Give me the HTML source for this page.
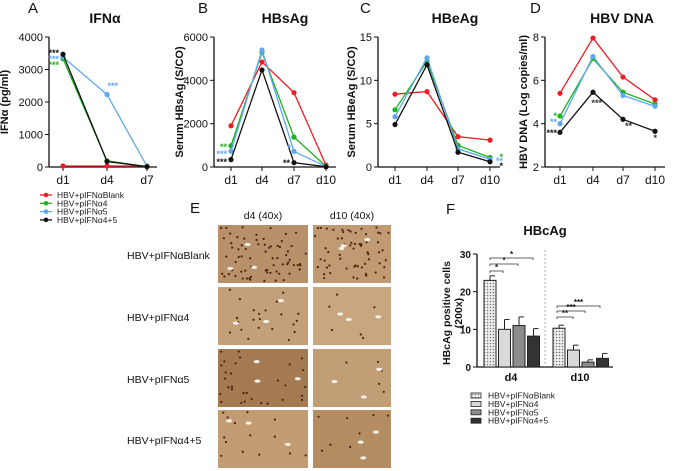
<!DOCTYPE html>
<html><head><meta charset="utf-8"><style>
body{margin:0;background:#fff;width:675px;height:471px;overflow:hidden;font-family:"Liberation Sans",sans-serif}
svg{position:absolute;left:0;top:0}
</style></head><body>
<svg id="fig" width="675" height="471"></svg>
<script>
const days3=["d1","d4","d7"];
const days4=["d1","d4","d7","d10"];
const groups=["HBV+pIFNαBlank","HBV+pIFNα4","HBV+pIFNα5","HBV+pIFNα4+5"];
const colors=["#ee1c24","#1db31d","#5fa8f0","#111111"];
// Panel A IFNα
const aBlank=[30,30,30],aA4=[3330,190,10],aA5=[3380,2230,20],aA45=[3470,170,10];
// Panel B HBsAg
const bBlank=[1900,4850,3430,80],bA4=[980,5300,1380,30],bA5=[730,5400,720,20],bA45=[340,4480,200,10];
// Panel C HBeAg
const cBlank=[8.4,8.7,3.5,3.1],cA4=[6.6,12.2,2.5,1.1],cA5=[5.8,12.6,2.1,0.9],cA45=[4.9,11.8,1.7,0.6];
// Panel D HBV DNA
const dBlank=[5.4,7.95,6.15,5.1],dA4=[4.35,7.0,5.45,4.9],dA5=[4.0,7.1,5.3,4.8],dA45=[3.6,5.45,4.2,3.65];
const aTicks=[0,1000,2000,3000,4000],bTicks=[0,2000,4000,6000],cTicks=[0,5,10,15],dTicks=[2,4,6,8];
// Panel F HBcAg
const fCats=["d4","d10"];
const fMeans=[[23,10,11,8.2],[10.3,4.5,1.3,2.3]];
const fErr=[[1.2,2.6,2.3,2],[0.8,1.3,0.6,1.3]];
const fTicks=[0,10,20,30];

const S=document.getElementById('fig');const NS="http://www.w3.org/2000/svg";
function el(t,a,txt){const e=document.createElementNS(NS,t);for(const k in a)e.setAttribute(k,a[k]);if(txt!==undefined)e.textContent=txt;S.appendChild(e);return e;}
function txt(x,y,s,o){o=o||{};const e=el('text',{x:x,y:y,'font-size':o.fs||11,'text-anchor':o.a||'middle','font-weight':o.b?'bold':'normal',fill:o.c||'#111'},s);if(o.r)e.setAttribute('transform',`rotate(-90 ${x} ${y})`);return e;}
function lineChart(id,ax,xs,ymin,ymax,ticks,cats,series,title,tx,letter,lx,ylab,ylx){
  const y0=167,y1=37;
  const Y=v=>y0-(v-ymin)/(ymax-ymin)*(y0-y1);
  const X=i=>xs[i];
  let e=el('line',{x1:ax,y1:y1,x2:ax,y2:y0,stroke:'#111','stroke-width':1.3});
  
  e=el('line',{x1:ax,y1:y0,x2:xs[xs.length-1]+10,y2:y0,stroke:'#111','stroke-width':1.3});
  
  ticks.forEach(t=>{el('line',{x1:ax-4,x2:ax,y1:Y(t),y2:Y(t),stroke:'#111'});
    e=txt(ax-6,Y(t)+4,t,{a:'end',fs:11});});
  cats.forEach((c,i)=>{el('line',{x1:X(i),x2:X(i),y1:y0,y2:y0+4,stroke:'#111'});
    e=txt(X(i),y0+17,c,{fs:12});});
  series.forEach((s,k)=>{
    e=el('polyline',{points:s.map((v,i)=>X(i)+','+Y(v)).join(' '),fill:'none',stroke:colors[k],'stroke-width':1.3});
    
    s.forEach((v,i)=>{e=el('circle',{cx:X(i),cy:Y(v),r:2.6,fill:colors[k]});
      });
  });
  e=txt(tx,23,title,{b:1,fs:14});
  e=txt(lx,13,letter,{fs:15,a:'start'});
  e=txt(ylx,102,ylab,{b:1,fs:11,r:1});
  return Y;
}
lineChart('a',49,[63,107,147],0,4000,aTicks,days3,[aBlank,aA4,aA5,aA45],'IFNα',105,'A',28,'IFNα (pg/ml)',8);
lineChart('b',214,[231,262,294,326],0,6000,bTicks,days4,[bBlank,bA4,bA5,bA45],'HBsAg',285,'B',198,'Serum HBsAg (S/CO)',183);
lineChart('c',378,[395,427,458,490],0,15,cTicks,days4,[cBlank,cA4,cA5,cA45],'HBeAg',455,'C',360,'Serum HBeAg (S/CO)',355);
lineChart('d',545,[560,593,623,655],2,8,dTicks,days4,[dBlank,dA4,dA5,dA45],'HBV DNA',622,'D',530,'HBV DNA (Log copies/ml)',527);
function star(x,y,s,c){const e=txt(x,y,s,{fs:9,c:c,b:1,a:'end'});}
star(59,56,'***','#111');star(59,62,'***','#5fa8f0');star(59,68,'***','#1db31d');star(118,89,'***','#5fa8f0');
star(227,150,'**','#1db31d');star(227,157,'***','#5fa8f0');star(227,165,'***','#111');star(291,151,'*','#5fa8f0');star(290,166,'**','#111');
star(503,160,'*','#1db31d');star(503,164,'**','#5fa8f0');star(503,169,'*','#111');
star(557,119,'*','#1db31d');star(557,125,'**','#5fa8f0');star(557,136,'***','#111');star(602,106,'***','#333');star(632,129,'**','#333');star(657,141,'*','#333');
groups.forEach((g,k)=>{const y=195+k*8.3;
  let e=el('line',{x1:40,x2:52,y1:y,y2:y,stroke:colors[k],'stroke-width':1.3});
  el('circle',{cx:46,cy:y,r:2.3,fill:colors[k]});
  e=txt(57,y+3,g,{fs:8.5,a:'start',c:'#222'});});
// Panel E
let e=txt(190,213,'E',{fs:15,a:'start'});
e=txt(263,219,'d4 (40x)',{fs:10.5});
e=txt(352,219,'d10 (40x)',{fs:10.5});
const rowsY=[225,287,349,410];
const dens=[[70,60],[22,6],[30,5],[14,8]];
const tones=[["#b8916a","#c09a72"],["#c4a07a","#c8a67f"],["#a47a52","#c29e77"],["#c29d74","#b48d63"]];
groups.forEach((g,r)=>{e=txt(127,rowsY[r]+34,g,{fs:10.5,a:'start'});
  [218,313].forEach((x,c)=>{const w=c?78:90;
    e=el('rect',{x:x,y:rowsY[r],width:w,height:58,fill:tones[r][c]});
    let seed=r*7+c*3+1;const rnd=()=>{seed=(seed*9301+49297)%233280;return seed/233280;};
    for(let i=0;i<dens[r][c];i++)el('circle',{cx:x+2+rnd()*(w-4),cy:rowsY[r]+2+rnd()*54,r:1.1,fill:'#4a2310'});
    for(let i=0;i<3;i++)el('ellipse',{cx:x+10+rnd()*(w-20),cy:rowsY[r]+8+rnd()*42,rx:3,ry:1.6,fill:'#f4f0ea'});
  });});
// Panel F
e=txt(446,214,'F',{fs:15,a:'start'});
e=txt(545,235,'HBcAg',{fs:13,b:1});
const fy0=367,fy1=254,fax=477;const FY=v=>fy0-v/30*(fy0-fy1);
el('line',{x1:fax,y1:fy1,x2:fax,y2:fy0,stroke:'#111','stroke-width':1.3});
el('line',{x1:fax,y1:fy0,x2:613,y2:fy0,stroke:'#111','stroke-width':1.3});
el('line',{x1:545,y1:250,x2:545,y2:fy0,stroke:'#aaa','stroke-dasharray':'2,2'});
fTicks.forEach(t=>{el('line',{x1:fax-4,x2:fax,y1:FY(t),y2:FY(t),stroke:'#111'});e=txt(fax-6,FY(t)+4,t,{fs:10,a:'end',b:1});});
e=txt(450,313,'HBcAg positive cells',{fs:10.5,b:1,r:1});
txt(462,313,'(200x)',{fs:10.5,b:1,r:1});
const fFill=['url(#hatch)','#d9d9d9','#8c8c8c','#333'];
const defs=el('defs',{});defs.innerHTML='<pattern id="hatch" width="3" height="3" patternUnits="userSpaceOnUse"><rect width="3" height="3" fill="#eee"/><circle cx="1.5" cy="1.5" r="0.8" fill="#777"/></pattern>';
const groupStart=[484,553],fbw=12,fgap=14.5;
fCats.forEach((c,gi)=>{fMeans[gi].forEach((v,k)=>{const x=groupStart[gi]+k*fgap;
  el('line',{x1:x+fbw/2,x2:x+fbw/2,y1:FY(v),y2:FY(v+fErr[gi][k]),stroke:'#222'});
  el('line',{x1:x+fbw/2,x2:x+fbw-1,y1:FY(v+fErr[gi][k]),y2:FY(v+fErr[gi][k]),stroke:'#222'});
  e=el('rect',{x:x,y:FY(v),width:fbw,height:fy0-FY(v),fill:fFill[k],stroke:'#222','stroke-width':1});
  });
  e=txt(groupStart[gi]+27,381,c,{fs:11,b:1});});
function bracket(x1,x2,y,s){el('path',{d:`M${x1},${y+2}V${y}H${x2}V${y+2}`,fill:'none',stroke:'#333','stroke-width':0.8});txt((x1+x2)/2,y-1,s,{fs:8,b:1});}
bracket(490,503,271,'*');bracket(490,518,264,'*');bracket(490,533,258,'*');
bracket(557,573,317,'**');bracket(557,585,311,'***');bracket(557,600,306,'***');
groups.forEach((g,k)=>{const y=396+k*8.4;
  e=el('rect',{x:471,y:y-3,width:10,height:5,fill:fFill[k],stroke:'#222','stroke-width':0.8});
  e=txt(488,y+2.5,g,{fs:8.5,a:'start',c:'#222'});});
</script>
</body></html>
